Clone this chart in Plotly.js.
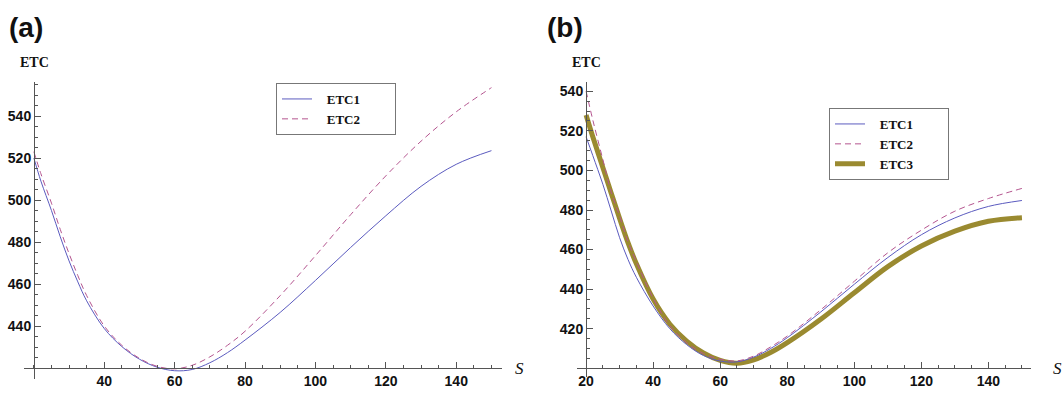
<!DOCTYPE html>
<html>
<head>
<meta charset="utf-8">
<script src="https://cdn.plot.ly/plotly-3.0.1.min.js"></script>
<style>
  html, body { margin: 0; padding: 0; background: #fff; }
  #chart { width: 1062px; height: 394px; }
</style>
</head>
<body>
<div id="chart"></div>
<script>
// ---- data ----
const sValues = [20, 22, 25, 27.5, 30, 32.5, 35, 40, 45, 50, 55, 60, 65, 70, 75, 80, 90, 100, 110, 120, 130, 140, 150];

// panel (a)
const etc1A = [520, 509, 495, 482.5, 471, 461, 452, 438.8, 430.2, 424.2, 420.4, 418.7, 419.3, 422.5, 427.3, 433.3, 446.5, 461.7, 477.4, 492.5, 506.5, 517, 523.5];
const etc2A = [523, 512.5, 498.5, 486, 474.5, 464, 454.5, 440, 430.8, 424.6, 420.8, 419.6, 421.3, 425.3, 430.8, 437.5, 454.5, 473.5, 493, 511.5, 528, 542, 553.5];

// panel (b)
const etc1B = [517, 507.5, 493, 479.5, 466, 455, 446, 431.5, 420, 412, 406.5, 403.7, 403.3, 405.7, 410, 415.5, 428.5, 442.5, 456, 467.5, 476, 481.8, 484.8];
const etc2B = [540, 525.5, 505.5, 489, 477, 464, 454, 435.5, 421.5, 413, 407.5, 404.6, 403.8, 406.2, 410.8, 416.3, 429.6, 444, 458.4, 469.8, 479.4, 485.8, 490.9];
const etc3B = [528, 517, 501.5, 488.5, 475.7, 463.5, 452.8, 435, 422.3, 413.8, 407.8, 404, 402.6, 404.3, 408, 413, 424.8, 438.2, 451.4, 461.8, 469.3, 474.3, 476.1];

const seriesNames = ['ETC1', 'ETC2', 'ETC3'];
const xTicksA = [40, 60, 80, 100, 120, 140];
const yTicksA = [440, 460, 480, 500, 520, 540];
const xTicksB = [20, 40, 60, 80, 100, 120, 140];
const yTicksB = [420, 440, 460, 480, 500, 520, 540];
const panelLabels = ['(a)', '(b)'];
const axisTitleY = 'ETC';
const axisTitleX = 'S';

// ---- styling / layout ----
const W = 1062, H = 394;
const blue = '#5b5bbf', pink = '#b4558f', olive = '#9a8a30';
const nb = '\u00a0';
const pad = n => '\u00a0\u00a0\u00a0' + n + nb.repeat(9);

const styleFor = [
  {color: blue, width: 1},
  {color: pink, width: 1, dash: '6px,4px'},
  {color: olive, width: 5}
];

function mk(y, i, xa, ya, leg) {
  return {
    x: sValues, y: y, type: 'scatter', mode: 'lines',
    name: pad(seriesNames[i]),
    line: Object.assign({shape: 'spline', smoothing: 1}, styleFor[i]),
    xaxis: xa, yaxis: ya, legend: leg, hoverinfo: 'skip'
  };
}

const traces = [
  mk(etc1A, 0, 'x', 'y', 'legend'),
  mk(etc2A, 1, 'x', 'y', 'legend'),
  mk(etc3B, 2, 'x2', 'y2', 'legend2'),
  mk(etc1B, 0, 'x2', 'y2', 'legend2'),
  mk(etc2B, 1, 'x2', 'y2', 'legend2')
];
// keep legend order ETC1, ETC2, ETC3 for panel (b)
traces[2].legendrank = 3; traces[3].legendrank = 1; traces[4].legendrank = 2;

// pixel geometry
const A = {l: 24, r: 502, top: 82.4, bot: 378.5, xr: [17.2, 153], yr: [415, 556], yAxisPx: 34, xAxisPy: 368};
const B = {l: 576.7, r: 1031, top: 81.7, bot: 376.7, xr: [17.2, 152.7], yr: [395.8, 544.8], yAxisPx: 586, xAxisPy: 368.3};

const tickFont = {family: 'Liberation Sans, Arial, sans-serif', size: 14, color: '#111', weight: 'bold'};
const axisCol = '#555';

function xAx(P, tv, overlay) {
  const o = {
    domain: [P.l / W, P.r / W], range: P.xr, anchor: 'free', position: (H - P.xAxisPy) / H,
    showgrid: false, zeroline: false, showline: !overlay, linecolor: axisCol, linewidth: 1,
    tickmode: 'array', tickvals: tv, ticks: overlay ? 'outside' : 'inside', ticklen: overlay ? 4 : 6,
    tickcolor: axisCol, tickwidth: 1, showticklabels: !overlay, tickfont: tickFont, fixedrange: true
  };
  if (!overlay) o.minor = {dtick: 5, tick0: 0, ticks: 'inside', ticklen: 3, tickcolor: axisCol, showgrid: false};
  return o;
}
function yAx(P, tv, overlay) {
  const o = {
    domain: [(H - P.bot) / H, (H - P.top) / H], range: P.yr, anchor: 'free', position: P.yAxisPx / W,
    showgrid: false, zeroline: false, showline: !overlay, linecolor: axisCol, linewidth: 1,
    tickmode: 'array', tickvals: tv, ticks: overlay ? 'outside' : 'inside', ticklen: overlay ? 4 : 6,
    tickcolor: axisCol, tickwidth: 1, showticklabels: !overlay, tickfont: tickFont, fixedrange: true
  };
  if (!overlay) o.minor = {dtick: 5, tick0: 0, ticks: 'inside', ticklen: 3, tickcolor: axisCol, showgrid: false};
  return o;
}

const legFont = {family: 'Liberation Serif, Times New Roman, serif', size: 13, color: '#111', weight: 'bold'};

const layout = {
  width: W, height: H,
  margin: {l: 0, r: 0, t: 0, b: 0},
  paper_bgcolor: '#fff', plot_bgcolor: 'rgba(0,0,0,0)',
  showlegend: true,
  xaxis: xAx(A, xTicksA, false),
  yaxis: yAx(A, yTicksA, false),
  xaxis2: xAx(B, xTicksB, false),
  yaxis2: yAx(B, yTicksB, false),
  xaxis3: Object.assign(xAx(A, xTicksA, true), {overlaying: 'x'}),
  yaxis3: Object.assign(yAx(A, yTicksA, true), {overlaying: 'y'}),
  xaxis4: Object.assign(xAx(B, xTicksB, true), {overlaying: 'x2'}),
  yaxis4: Object.assign(yAx(B, yTicksB, true), {overlaying: 'y2'}),
  legend: {
    x: 276 / W, y: (H - 83) / H, xanchor: 'left', yanchor: 'top',
    bgcolor: '#fff', bordercolor: '#777', borderwidth: 1,
    font: legFont, itemwidth: 30, tracegroupgap: 0, traceorder: 'normal'
  },
  legend2: {
    x: 829 / W, y: (H - 108) / H, xanchor: 'left', yanchor: 'top',
    bgcolor: '#fff', bordercolor: '#777', borderwidth: 1,
    font: legFont, itemwidth: 30, tracegroupgap: 0, traceorder: 'normal'
  },
  annotations: [
    {text: panelLabels[0], x: 7 / W, y: (H - 28) / H, xref: 'paper', yref: 'paper', xanchor: 'left', yanchor: 'middle', showarrow: false,
     font: {family: 'Liberation Sans, Arial, sans-serif', size: 28, color: '#111', weight: 'bold'}},
    {text: panelLabels[1], x: 545 / W, y: (H - 28) / H, xref: 'paper', yref: 'paper', xanchor: 'left', yanchor: 'middle', showarrow: false,
     font: {family: 'Liberation Sans, Arial, sans-serif', size: 28, color: '#111', weight: 'bold'}},
    {text: axisTitleY, x: 34 / W, y: (H - 63) / H, xref: 'paper', yref: 'paper', xanchor: 'center', yanchor: 'middle', showarrow: false,
     font: {family: 'Liberation Serif, Times New Roman, serif', size: 14, color: '#111', weight: 'bold'}},
    {text: axisTitleY, x: 586 / W, y: (H - 63) / H, xref: 'paper', yref: 'paper', xanchor: 'center', yanchor: 'middle', showarrow: false,
     font: {family: 'Liberation Serif, Times New Roman, serif', size: 14, color: '#111', weight: 'bold'}},
    {text: axisTitleX, x: 519 / W, y: (H - 368) / H, xref: 'paper', yref: 'paper', xanchor: 'center', yanchor: 'middle', showarrow: false,
     font: {family: 'Liberation Serif, Times New Roman, serif', size: 17, color: '#111', style: 'italic'}},
    {text: axisTitleX, x: 1057 / W, y: (H - 368) / H, xref: 'paper', yref: 'paper', xanchor: 'center', yanchor: 'middle', showarrow: false,
     font: {family: 'Liberation Serif, Times New Roman, serif', size: 17, color: '#111', style: 'italic'}}
  ]
};

Plotly.newPlot('chart', traces, layout, {staticPlot: true, displayModeBar: false});
</script>
</body>
</html>
